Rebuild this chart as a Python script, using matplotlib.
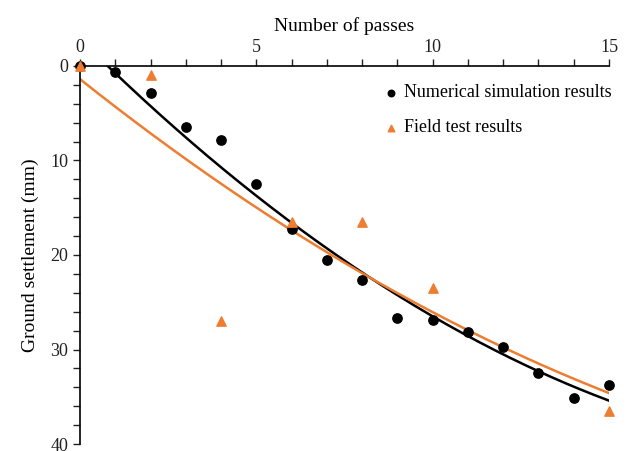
import numpy as np
import matplotlib.pyplot as plt
from matplotlib.ticker import MultipleLocator

plt.rcParams['font.family'] = 'Liberation Serif'

# numerical simulation results
num_x = [0, 1, 2, 3, 4, 5, 6, 7, 8, 9, 10, 11, 12, 13, 14, 15]
num_y = [0, 0.6, 2.9, 6.5, 7.8, 12.5, 17.2, 20.5, 22.6, 26.7, 26.9, 28.1, 29.7, 32.5, 35.1, 33.8]

# field test results
field_x = [0, 2, 4, 6, 8, 10, 15]
field_y = [0, 0.95, 27.0, 16.5, 16.5, 23.5, 36.5]

black = '#000000'
orange = '#ED7D31'

fig = plt.figure(figsize=(6.28, 4.51), dpi=100)
ax = fig.add_axes([0.1274, 0.0155, 0.8423, 0.8382])

# polynomial trend lines
xs = np.linspace(0, 15, 200)
pn = np.polyfit(num_x, num_y, 2)
pf = np.polyfit(field_x, field_y, 2)
ax.plot(xs, np.polyval(pn, xs), color=black, lw=1.8, zorder=2)
ax.plot(xs, np.polyval(pf, xs), color=orange, lw=1.8, zorder=2)

ax.scatter(num_x, num_y, color=black, s=45, zorder=3, clip_on=False,
           label='Numerical simulation results')
ax.scatter(field_x, field_y, color=orange, marker='^', s=45, zorder=4, clip_on=False,
           label='Field test results')

ax.set_xlim(0, 15)
ax.set_ylim(40, 0)
ax.xaxis.tick_top()
ax.xaxis.set_label_position('top')
ax.xaxis.set_major_locator(MultipleLocator(5))
ax.xaxis.set_minor_locator(MultipleLocator(1))
ax.yaxis.set_major_locator(MultipleLocator(10))
ax.yaxis.set_minor_locator(MultipleLocator(2))
ax.tick_params(which='both', direction='out', length=5, width=1, labelsize=13, colors='#222222')
ax.tick_params(axis='x', pad=2)

for s in ['right', 'bottom']:
    ax.spines[s].set_visible(False)
for s in ['top', 'left']:
    ax.spines[s].set_linewidth(1.2)

ax.set_xlabel('Number of passes', fontsize=14, labelpad=6)
ax.set_ylabel('Ground settlement (mm)', fontsize=14, labelpad=8)

ax.legend(loc='upper right', bbox_to_anchor=(1.025, 0.98), frameon=False, fontsize=13,
          handletextpad=-0.3, labelspacing=1.0, borderaxespad=0.2, markerscale=0.7)

fig.savefig('out.png', dpi=100)
